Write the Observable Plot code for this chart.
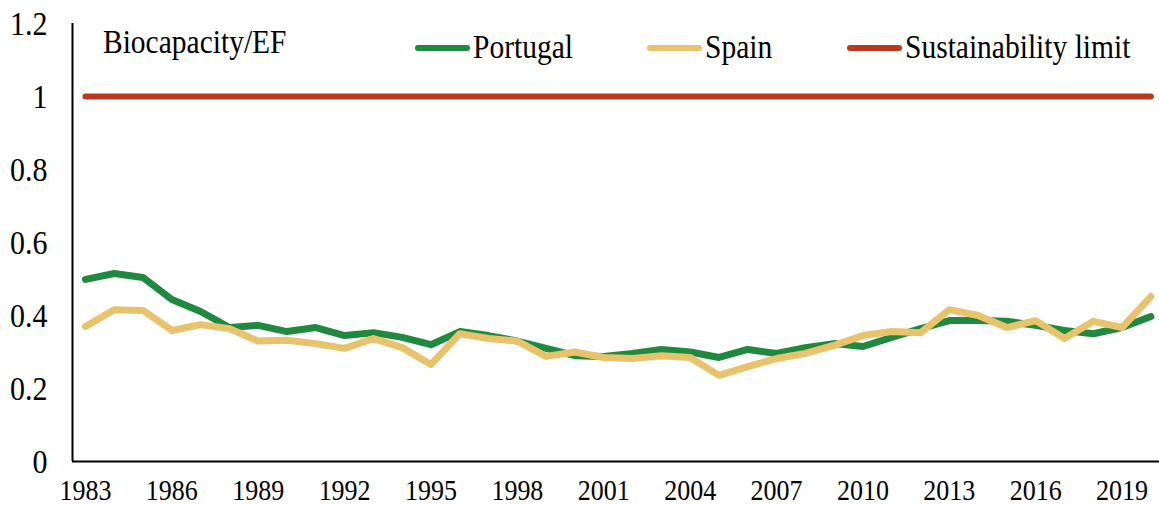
<!DOCTYPE html>
<html>
<head>
<meta charset="utf-8">
<script src="https://cdn.jsdelivr.net/npm/d3@7"></script>
<script src="https://cdn.jsdelivr.net/npm/@observablehq/plot@0.6"></script>
<style>
  html, body { margin: 0; padding: 0; background: #fff; }
  #wrap { position: relative; width: 1159px; height: 505px; font-family: "Liberation Serif", "Times New Roman", serif; color: #000; }
  .lab { position: absolute; font-size: 29.5px; line-height: 1; white-space: nowrap; transform-origin: 0 26px; transform: scaleY(1.15); }
  .sw { position: absolute; height: 6px; border-radius: 3px; }
</style>
</head>
<body>
<div id="wrap"></div>
<script>
const years = [1983,1984,1985,1986,1987,1988,1989,1990,1991,1992,1993,1994,1995,1996,1997,1998,1999,2000,2001,2002,2003,2004,2005,2006,2007,2008,2009,2010,2011,2012,2013,2014,2015,2016,2017,2018,2019,2020];
const portugal = [0.499,0.515,0.504,0.444,0.411,0.367,0.373,0.356,0.367,0.345,0.353,0.340,0.320,0.356,0.345,0.330,0.310,0.290,0.288,0.296,0.307,0.300,0.285,0.307,0.296,0.312,0.323,0.315,0.340,0.364,0.386,0.386,0.384,0.373,0.359,0.350,0.367,0.397];
const spain = [0.370,0.416,0.414,0.359,0.375,0.364,0.330,0.332,0.323,0.310,0.337,0.312,0.266,0.350,0.337,0.330,0.288,0.300,0.285,0.282,0.290,0.285,0.236,0.260,0.282,0.296,0.318,0.345,0.356,0.353,0.416,0.400,0.367,0.386,0.337,0.384,0.367,0.452];
const limit = years.map(() => 1);
const xTicks = [1983,1986,1989,1992,1995,1998,2001,2004,2007,2010,2013,2016,2019];
const yTicks = [0,0.2,0.4,0.6,0.8,1,1.2];
const seriesNames = ["Portugal","Spain","Sustainability limit"];
const seriesColors = ["#1F8A3F","#E8C36C","#B8391D"];

const rows = [];
years.forEach((y, i) => {
  rows.push({year: y, value: portugal[i], series: "Portugal"});
  rows.push({year: y, value: spain[i], series: "Spain"});
  rows.push({year: y, value: limit[i], series: "Sustainability limit"});
});
const xDomain = [1982.55, 2020.3];
const stretch = 1.15;

const chart = Plot.plot({
  width: 1159,
  height: 505,
  marginLeft: 72,
  marginRight: 0,
  marginTop: 23,
  marginBottom: 44,
  style: {fontFamily: "'Liberation Serif', 'Times New Roman', serif", fontSize: "26px", color: "#000", background: "#fff"},
  x: {domain: xDomain, label: null},
  y: {domain: [0, 1.2], label: null},
  color: {domain: seriesNames, range: seriesColors},
  marks: [
    Plot.axisX({ticks: xTicks, tickFormat: d => String(d), tickSize: 0, tickPadding: 17, label: null, fontSize: 26}),
    Plot.axisY({ticks: yTicks, tickFormat: d => String(d), tickSize: 0, tickPadding: 25, label: null, fontSize: 30}),
    Plot.lineY(rows.filter(d => d.series === "Sustainability limit"), {x: "year", y: "value", stroke: "series", strokeWidth: 6, strokeLinecap: "round"}),
    Plot.lineY(rows.filter(d => d.series === "Portugal"), {x: "year", y: "value", stroke: "series", strokeWidth: 7, strokeLinejoin: "round", strokeLinecap: "round"}),
    Plot.lineY(rows.filter(d => d.series === "Spain"), {x: "year", y: "value", stroke: "series", strokeWidth: 7, strokeLinejoin: "round", strokeLinecap: "round"}),
    Plot.ruleY([0], {stroke: "#000", strokeWidth: 2}),
    Plot.ruleX([xDomain[0]], {stroke: "#000", strokeWidth: 2})
  ]
});
// stretch tick label glyphs vertically (reference text is tall)
d3.select(chart).selectAll("text").each(function() {
  const t = d3.select(this);
  const tr = t.attr("transform");
  if (tr) {
    t.attr("transform", tr + ` scale(1,${stretch})`);
  } else {
    const x = +t.attr("x") || 0, y = +t.attr("y") || 0;
    t.attr("x", null).attr("y", null).attr("transform", `translate(${x},${y}) scale(1,${stretch})`);
  }
});
const wrap = document.getElementById("wrap");
wrap.appendChild(chart);

function addLabel(text, left, baseline) {
  const d = document.createElement("div");
  d.className = "lab"; d.textContent = text;
  d.style.left = left + "px"; d.style.top = (baseline - 26) + "px";
  wrap.appendChild(d);
}
function addSwatch(color, left, top, w) {
  const s = document.createElement("div");
  s.className = "sw"; s.style.background = color;
  s.style.left = left + "px"; s.style.top = top + "px"; s.style.width = w + "px";
  wrap.appendChild(s);
}
addLabel("Biocapacity/EF", 103, 55);
const legendLeft = [415, 647, 847];
seriesNames.forEach((n, i) => {
  addSwatch(seriesColors[i], legendLeft[i], 45, 55);
  addLabel(n, legendLeft[i] + 58, 60);
});
</script>
</body>
</html>
